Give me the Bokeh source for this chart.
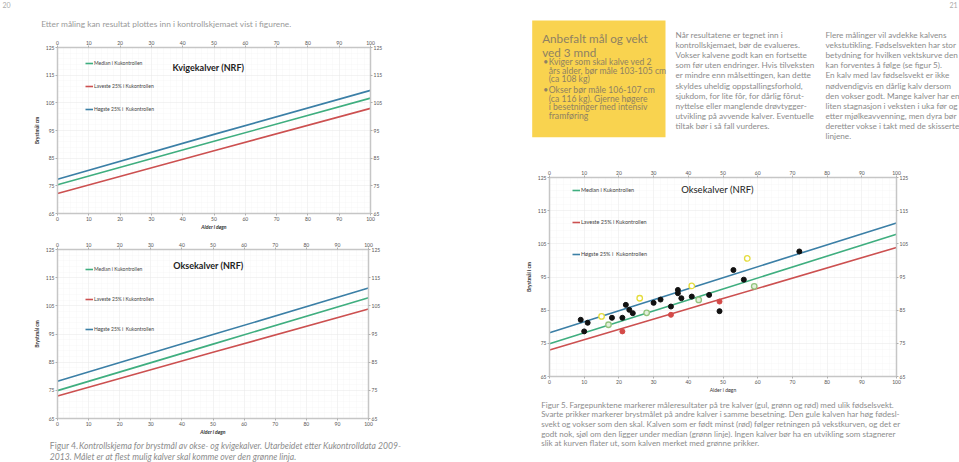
from bokeh.plotting import figure
from bokeh.layouts import row, column
from bokeh.models import Range1d, LinearAxis, FixedTicker, Legend, LegendItem, Label
from bokeh.core.properties import value
from bokeh.embed import file_html
from bokeh.resources import INLINE

# ---------------- data ----------------
x_ticks = [0, 10, 20, 30, 40, 50, 60, 70, 80, 90, 100]
y_ticks = [65, 75, 85, 95, 105, 115, 125]
curve_age = [0, 50, 100]

heifer_median = [75.4, 91.1, 106.7]
heifer_low25 = [72.2, 87.7, 103.0]
heifer_high25 = [77.4, 93.6, 109.5]

bull_median = [74.9, 91.4, 107.9]
bull_low25 = [73.0, 88.5, 103.9]
bull_high25 = [78.2, 94.8, 111.3]

other_age = [9, 10, 11, 18, 21, 22, 23, 24, 30, 32, 35, 37, 37, 38, 41, 46, 49, 53, 56, 72]
other_chest = [82.1, 78.6, 81.2, 82.7, 82.7, 86.6, 85.1, 84.1, 87.2, 88.2, 86.1, 91.1, 90.1,
               88.6, 89.1, 89.6, 84.7, 97.1, 94.2, 102.7]
yellow_age = [15, 26, 41, 57]
yellow_chest = [83.1, 88.6, 92.3, 100.6]
green_age = [17, 28, 43, 59]
green_chest = [80.6, 84.2, 88.1, 92.2]
red_age = [21, 35, 49]
red_chest = [78.6, 83.6, 87.6]

legend_labels = ["Median i Kukontrollen", "Laveste 25% i Kukontrollen", "Høgste 25% i  Kukontrollen"]

header_text = "Etter måling kan resultat plottes inn i kontrollskjemaet vist i figurene."
box_title = ["Anbefalt mål og vekt", "ved 3 mnd"]
box_lines = ["Kviger som skal kalve ved 2", "års alder, bør måle 103-105 cm", "(ca 108 kg)",
             "Okser bør måle 106-107 cm", "(ca 116 kg). Gjerne høgere",
             "i besetninger med intensiv", "framføring"]
col2_lines = ["Når resultatene er tegnet inn i",
              "kontrollskjemaet, bør de evalueres.",
              "Vokser kalvene godt kan en fortsette",
              "som før uten endringer. Hvis tilveksten",
              "er mindre enn målsettingen, kan dette",
              "skyldes uheldig oppstallingsforhold,",
              "sjukdom, for lite fôr, for dårlig fôrut-",
              "nyttelse eller manglende drøvtygger-",
              "utvikling på avvende kalver. Eventuelle",
              "tiltak bør i så fall vurderes."]
col3_lines = ["Flere målinger vil avdekke kalvens",
              "vekstutikling. Fødselsvekten har stor",
              "betydning for hvilken vektskurve den",
              "kan forventes å følge (se figur 5).",
              "En kalv med lav fødselsvekt er ikke",
              "nødvendigvis en dårlig kalv dersom",
              "den vokser godt. Mange kalver har en",
              "liten stagnasjon i veksten i uka før og",
              "etter mjølkeavvenning, men dyra bør",
              "deretter vokse i takt med de skisserte",
              "linjene."]
fig4_lead = "Figur 4."
fig4_rest = ["Kontrollskjema for brystmål av okse- og kvigekalver. Utarbeidet etter Kukontrolldata 2009-",
             "2013. Målet er at flest mulig kalver skal komme over den grønne linja."]
fig5_lines = ["Figur 5. Fargepunktene markerer måleresultater på tre kalver (gul, grønn og rød) med ulik fødselsvekt.",
              "Svarte prikker markerer brystmålet på andre kalver i samme besetning. Den gule kalven har høg fødesl-",
              "svekt og vokser som den skal. Kalven som er født minst (rød) følger retningen på vekstkurven, og det er",
              "godt nok, sjøl om den ligger under median (grønn linje). Ingen kalver bør ha en utvikling som stagnerer",
              "slik at kurven flater ut, som kalven merket med grønne prikker."]

# ---------------- styles ----------------
C_BLUE = "#3b7fa6"
C_GREEN = "#3fae7f"
C_RED = "#cc5050"
TXT = "#8c8c8c"
BOXTXT = "#8e8163"
FONT = "Lato"


def text_fig(w, h):
    p = figure(width=w, height=h, x_range=Range1d(0, w), y_range=Range1d(h, 0),
               output_backend="svg", toolbar_location=None, min_border=0,
               x_axis_type=None, y_axis_type=None, frame_align=False)
    p.outline_line_color = None
    p.background_fill_color = "white"
    p.border_fill_color = "white"
    return p


def put_lines(p, x, y0, dy, lines, size, color=TXT, style="normal"):
    p.text(x=[x] * len(lines), y=[y0 + i * dy for i in range(len(lines))], text=lines,
           text_font=value(FONT), text_font_size=size, text_color=color,
           text_baseline="middle", text_align="left", text_font_style=style)


def chart(width, height, bl, br, bt, bb, title, tx, ty, tbold, tsize, ylabel, xlab_style,
          med, low, high, lx, ly, lsp, lsize):
    p = figure(width=width, height=height, x_range=Range1d(0, 100), y_range=Range1d(65, 125),
               output_backend="svg", toolbar_location=None, frame_align=False,
               min_border_left=bl, min_border_right=br, min_border_top=bt, min_border_bottom=bb)
    p.add_layout(LinearAxis(), "above")
    p.add_layout(LinearAxis(), "right")
    minor_x = [v for v in range(0, 101, 2)]
    minor_y = [v for v in range(65, 126, 2)]
    for ax in p.xaxis:
        ax.ticker = FixedTicker(ticks=x_ticks, minor_ticks=minor_x)
    for ax in p.yaxis:
        ax.ticker = FixedTicker(ticks=y_ticks, minor_ticks=minor_y)
    for ax in p.axis:
        ax.axis_line_color = "#c6c6c6"
        ax.axis_line_width = 1.5
        ax.major_tick_line_color = "#b0b0b0"
        ax.major_tick_out = 2
        ax.major_tick_in = 0
        ax.minor_tick_out = 0
        ax.minor_tick_in = 0
        ax.major_label_text_font = FONT
        ax.major_label_text_font_size = "5px"
        ax.major_label_text_color = "#555555"
        ax.major_label_standoff = 1
    ly_ax = p.left[0]
    ly_ax.axis_label = ylabel
    ly_ax.axis_label_text_font = FONT
    ly_ax.axis_label_text_font_size = "5px"
    ly_ax.axis_label_text_font_style = "bold"
    ly_ax.axis_label_text_color = "#333333"
    ly_ax.axis_label_standoff = 3
    bx = p.below[0]
    bx.axis_label = "Alder i døgn"
    bx.axis_label_text_font = FONT
    bx.axis_label_text_font_size = "5px"
    bx.axis_label_text_font_style = xlab_style
    bx.axis_label_text_color = "#333333"
    bx.axis_label_standoff = 0
    p.xgrid.ticker = FixedTicker(ticks=x_ticks, minor_ticks=minor_x)
    p.ygrid.ticker = FixedTicker(ticks=y_ticks, minor_ticks=minor_y)
    p.grid.grid_line_color = "#e2e2e2"
    p.grid.grid_line_dash = "1 1"
    p.grid.grid_line_width = 0.6
    p.grid.minor_grid_line_color = "#efefef"
    p.grid.minor_grid_line_dash = "1 1"
    p.grid.minor_grid_line_width = 0.5
    p.outline_line_color = "#cfcfcf"

    rg = p.line(curve_age, med, line_color=C_GREEN, line_width=1.6)
    rr = p.line(curve_age, low, line_color=C_RED, line_width=1.6)
    rb = p.line(curve_age, high, line_color=C_BLUE, line_width=1.6)

    leg = Legend(items=[LegendItem(label=legend_labels[0], renderers=[rg]),
                        LegendItem(label=legend_labels[1], renderers=[rr]),
                        LegendItem(label=legend_labels[2], renderers=[rb])],
                 location=(lx, ly), orientation="vertical", spacing=lsp, padding=0, margin=0,
                 glyph_width=8, glyph_height=8, label_height=8, label_standoff=1,
                 label_text_font=FONT, label_text_font_size=lsize, label_text_color="#444444",
                 border_line_alpha=0, background_fill_alpha=0)
    p.add_layout(leg, "center")

    p.add_layout(Label(x=tx, y=ty, text=title, text_align="center", text_baseline="middle",
                       text_font=FONT, text_font_size=tsize,
                       text_font_style="bold" if tbold else "normal", text_color="#222222"))
    return p


# ---------------- left column (width 520) ----------------
hdr = text_fig(520, 37)
hdr.text(x=[2], y=[4.5], text=["20"], text_font=value(FONT), text_font_size="7px",
         text_color="#aaaaaa", text_baseline="middle")
put_lines(hdr, 40.7, 23.5, 0, [header_text], "8.4px", color="#9a9a9a")

fig1 = chart(520, 200, 57, 150, 9, 24, "Kvigekalver (NRF)", 48.2, 117.8, True, "9px",
             "Brystmål cm", "bold italic", heifer_median, heifer_low25, heifer_high25,
             28, 100, 15, "5px")
fig2 = chart(520, 200, 57, 152, 12, 19, "Oksekalver (NRF)", 48.5, 119.3, True, "9px",
             "Brystmål cm", "bold italic", bull_median, bull_low25, bull_high25,
             28, 85, 22, "5px")

cap4 = text_fig(520, 25)
put_lines(cap4, 49.3, 8.7, 0, [fig4_lead], "8.6px")
put_lines(cap4, 78.5, 8.7, 0, [fig4_rest[0]], "8.6px", style="italic")
put_lines(cap4, 49.3, 19.7, 0, [fig4_rest[1]], "8.6px", style="italic")

left = column(hdr, fig1, fig2, cap4, spacing=0)

# ---------------- right column (width 439) ----------------
top = text_fig(439, 166)
top.text(x=[437], y=[4.5], text=["21"], text_font=value(FONT), text_font_size="7px",
         text_color="#aaaaaa", text_baseline="middle", text_align="right")
top.quad(left=[11.7], right=[145], top=[20], bottom=[136.7], fill_color="#f9d34f", line_color=None)
put_lines(top, 21.7, 37.7, 13.3, box_title, "11.7px", color=BOXTXT)
box_y = [61.7, 70, 78.3, 89.5, 98, 106.7, 115.3]
top.text(x=[28.3] * len(box_lines), y=box_y, text=box_lines, text_font=value(FONT),
         text_font_size="8.6px", text_color=BOXTXT, text_baseline="middle")
top.text(x=[22.7, 22.7], y=[box_y[0], box_y[3]], text=["•", "•"], text_font=value(FONT),
         text_font_size="8.6px", text_color=BOXTXT, text_baseline="middle")
put_lines(top, 155, 34.5, 10.1, col2_lines, "8.2px")
put_lines(top, 305, 34.5, 10.1, col3_lines, "8.2px")

fig3 = chart(439, 229, 29, 63, 11, 17, "Oksekalver (NRF)", 48.4, 121.4, False, "9.5px",
             "Brystmål i cm", "normal", bull_median, bull_low25, bull_high25,
             23, 118, 24, "5.5px")
fig3.scatter(other_age, other_chest, size=5, marker="circle", fill_color="#111111", line_color="#111111")
fig3.scatter(yellow_age, yellow_chest, size=5.5, marker="circle", fill_color="white",
             line_color="#e4dc3c", line_width=1.3)
fig3.scatter(green_age, green_chest, size=5.5, marker="circle", fill_color="#e3f0dc",
             line_color="#93c47d", line_width=1.3)
fig3.scatter(red_age, red_chest, size=5, marker="circle", fill_color="#d44a48", line_color="#d44a48")

cap5 = text_fig(439, 67)
put_lines(cap5, 20.7, 9.3, 9.6, fig5_lines, "8px")

right = column(top, fig3, cap5, spacing=0)

page = row(left, right, spacing=0)

open("out.html", "w").write(file_html(page, INLINE))
